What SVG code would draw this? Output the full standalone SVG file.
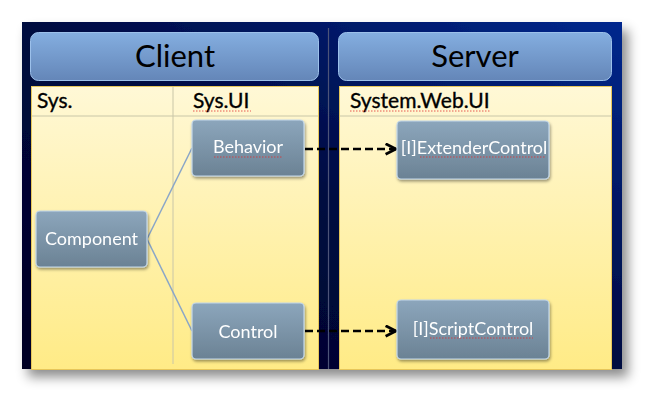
<svg xmlns="http://www.w3.org/2000/svg" width="664" height="412" viewBox="0 0 664 412">
<defs>
<linearGradient id="bg" x1="0" y1="1" x2="1" y2="0">
<stop offset="0" stop-color="#000024"/>
<stop offset="0.5" stop-color="#000a40"/>
<stop offset="1" stop-color="#06288e"/>
</linearGradient>
<linearGradient id="hdr" x1="0" y1="0" x2="0" y2="1">
<stop offset="0" stop-color="#84aee0"/>
<stop offset="1" stop-color="#6486b8"/>
</linearGradient>
<linearGradient id="panel" x1="0" y1="0" x2="0" y2="1">
<stop offset="0" stop-color="#fff8d6"/>
<stop offset="1" stop-color="#ffeb86"/>
</linearGradient>
<linearGradient id="node" x1="0" y1="0" x2="0" y2="1">
<stop offset="0" stop-color="#8ca6bc"/>
<stop offset="1" stop-color="#6b8294"/>
</linearGradient>
<filter id="outer" x="-10%" y="-10%" width="125%" height="130%">
<feDropShadow dx="6" dy="8" stdDeviation="6" flood-color="#000" flood-opacity="0.45"/>
</filter>
<filter id="sh" x="-10%" y="-10%" width="130%" height="140%">
<feDropShadow dx="1" dy="2" stdDeviation="1.5" flood-color="#000" flood-opacity="0.4"/>
</filter>
<marker id="arr" viewBox="0 0 10 10" refX="9" refY="5" markerWidth="5" markerHeight="5" markerUnits="strokeWidth" orient="auto">
<path d="M1,1 L9,5 L1,9" fill="none" stroke="#000" stroke-width="2.2" stroke-linejoin="miter"/>
</marker>
<style>
.hdrbox{fill:url(#hdr);stroke:#9cc0ea;stroke-width:1}
.hdrtxt{font-family:Lato,"Open Sans",sans-serif;font-size:31px;fill:#000;text-anchor:middle}
.panel{fill:url(#panel);stroke:#e6c65a;stroke-width:1}
.sep{stroke:#c9c6a8;stroke-width:1}
.lbl{font-family:Lato,"Open Sans",sans-serif;font-size:21px;fill:#000;stroke:#000;stroke-width:0.35}
.nbox{fill:url(#node);stroke:#c4d8ea;stroke-width:1.2}
.ntxt{font-family:Lato,"Open Sans",sans-serif;font-size:18px;fill:#fff;text-anchor:middle}
.link{stroke:#8aa6c8;stroke-width:1.5;fill:none}
.dash{stroke:#000;stroke-width:2.6;stroke-dasharray:8 4;fill:none;marker-end:url(#arr)}
.sq{stroke:#e03030;stroke-width:0.8;fill:none;stroke-dasharray:1.5 1.5}
</style>
</defs>
<rect width="664" height="412" fill="#fff"/>
<rect x="22" y="22" width="600" height="347" fill="url(#bg)" filter="url(#outer)"/>
<line x1="328.5" y1="28" x2="328.5" y2="369" stroke="#4c5478" stroke-width="1.2"/>

<g id="client-header">
<rect class="hdrbox" x="30.5" y="32.5" width="288" height="48" rx="8"/>
<text class="hdrtxt" x="175" y="67">Client</text>
</g>
<g id="server-header">
<rect class="hdrbox" x="338.5" y="32.5" width="273" height="48" rx="8"/>
<text class="hdrtxt" x="475" y="67">Server</text>
</g>

<g id="client-panel">
<rect class="panel" x="31.5" y="86.5" width="287" height="283"/>
<line class="sep" x1="32" y1="116" x2="318" y2="116"/>
<line class="sep" x1="173" y1="87" x2="173" y2="364"/>
<text class="lbl" x="37" y="108">Sys.</text>
<text class="lbl" x="193" y="108">Sys.UI</text>
<path class="sq" d="M193,111 H251"/>
</g>
<g id="server-panel">
<rect class="panel" x="339.5" y="86.5" width="272" height="283"/>
<line class="sep" x1="340" y1="116" x2="611" y2="116"/>
<text class="lbl" x="350" y="108">System.Web.UI</text>
<path class="sq" d="M350,111 H491"/>
</g>

<g id="connectors">
<line class="link" x1="147" y1="239" x2="192" y2="148"/>
<line class="link" x1="147" y1="239" x2="192" y2="331"/>
<line class="dash" x1="305" y1="149" x2="396" y2="149"/>
<line class="dash" x1="305" y1="331" x2="396" y2="331"/>
</g>

<g id="component" filter="url(#sh)">
<rect class="nbox" x="36" y="211" width="111" height="56" rx="4"/>
<text class="ntxt" x="91.5" y="245">Component</text>
</g>
<g id="behavior" filter="url(#sh)">
<rect class="nbox" x="192" y="120" width="112" height="56" rx="4"/>
<text class="ntxt" x="248" y="153">Behavior</text>
<path class="sq" d="M214,157 H283"/>
</g>
<g id="control" filter="url(#sh)">
<rect class="nbox" x="192" y="303" width="112" height="56" rx="4"/>
<text class="ntxt" x="248" y="338">Control</text>
</g>
<g id="extendercontrol" filter="url(#sh)">
<rect class="nbox" x="397" y="121" width="152" height="58" rx="4"/>
<text class="ntxt" x="474" y="154">[I]ExtenderControl</text>
<path class="sq" d="M420,157 H546"/>
</g>
<g id="scriptcontrol" filter="url(#sh)">
<rect class="nbox" x="397" y="300" width="152" height="59" rx="4"/>
<text class="ntxt" x="473" y="335">[I]ScriptControl</text>
<path class="sq" d="M430,338 H533"/>
</g>
</svg>
